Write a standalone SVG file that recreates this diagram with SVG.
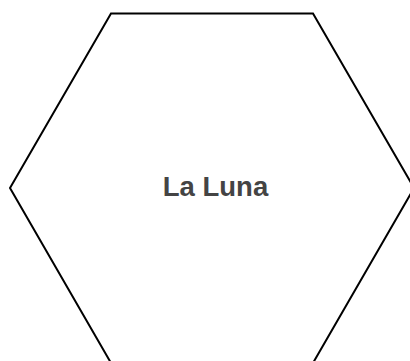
<svg xmlns="http://www.w3.org/2000/svg" width="410" height="361" viewBox="0 0 410 361">
<style>
.hex{fill:#fff;stroke:#000;stroke-width:2;stroke-linejoin:miter}
.lbl{font-family:"Liberation Sans",Arial,sans-serif;font-weight:bold;font-size:27.5px;fill:#444;text-anchor:middle}
</style>
<rect width="410" height="361" fill="#fff"/>
<g id="node-la-luna">
<polygon class="hex" points="111,13.5 313,13.5 414,188 313,363 111,363 10,188"/>
<text class="lbl" x="215.5" y="196">La Luna</text>
</g>
<g id="connectors"/>
</svg>
